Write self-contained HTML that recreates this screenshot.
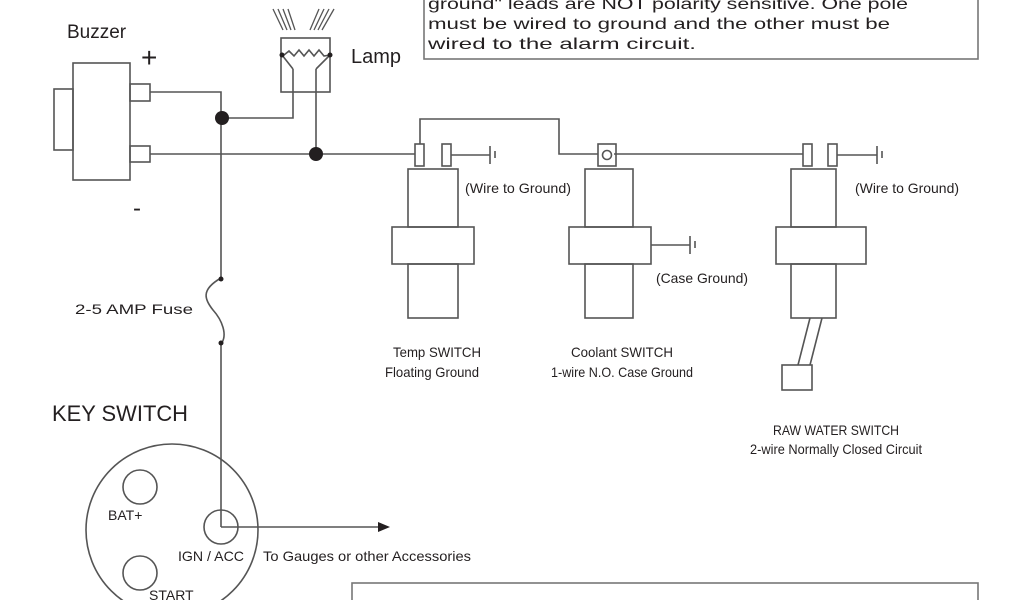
<!DOCTYPE html>
<html><head><meta charset="utf-8"><style>
html,body{margin:0;padding:0;background:#fff;}
svg{display:block;font-family:"Liberation Sans",sans-serif;}
text{fill:#231f20;}
</style></head><body>
<svg width="1024" height="600" viewBox="0 0 1024 600" xmlns="http://www.w3.org/2000/svg">
<g fill="none" stroke="#555" stroke-width="1.6">
<rect x="424" y="-5" width="554" height="64" stroke="#777"/>
<rect x="352" y="583" width="626" height="30" stroke="#777"/>
<rect x="73" y="63" width="57" height="117"/>
<rect x="54" y="89" width="19" height="61"/>
<rect x="130" y="84" width="20" height="17"/>
<rect x="130" y="146" width="20" height="16"/>
<polyline points="150,92 221,92 221,278"/>
<polyline points="222,118 293,118 293,69"/>
<polyline points="150,154 415,154"/>
<polyline points="316,69 316,154"/>
<polyline points="420,144 420,119 559,119 559,154 598,154"/>
<line x1="614" y1="154" x2="803" y2="154"/>
<rect x="281" y="38" width="49" height="54"/>
<polyline points="282,55 293,69"/>
<polyline points="330,55 316,69"/>
<polyline points="284,55 289,51 294,56 299,50 304,56 309,50 314,56 319,50 324,56 330,55"/>
<g stroke-width="1.3">
<line x1="273" y1="9" x2="283" y2="30"/><line x1="278" y1="9" x2="287" y2="30"/><line x1="283" y1="9" x2="291" y2="30"/><line x1="288" y1="9" x2="295" y2="30"/>
<line x1="319" y1="9" x2="310" y2="30"/><line x1="324" y1="9" x2="314" y2="30"/><line x1="329" y1="9" x2="318" y2="30"/><line x1="334" y1="9" x2="322" y2="30"/>
</g>
<rect x="415" y="144" width="9" height="22"/>
<rect x="442" y="144" width="9" height="22"/>
<line x1="451" y1="155" x2="490" y2="155"/>
<line x1="490" y1="146" x2="490" y2="164"/><line x1="495" y1="151" x2="495" y2="158"/>
<rect x="408" y="169" width="50" height="58"/>
<rect x="392" y="227" width="82" height="37"/>
<rect x="408" y="264" width="50" height="54"/>
<rect x="598" y="144" width="18" height="22"/>
<circle cx="607" cy="155" r="4.5"/>
<rect x="585" y="169" width="48" height="58"/>
<rect x="569" y="227" width="82" height="37"/>
<rect x="585" y="264" width="48" height="54"/>
<line x1="651" y1="245" x2="690" y2="245"/>
<line x1="690" y1="236" x2="690" y2="254"/><line x1="695" y1="241" x2="695" y2="248"/>
<rect x="803" y="144" width="9" height="22"/>
<rect x="828" y="144" width="9" height="22"/>
<line x1="837" y1="155" x2="877" y2="155"/>
<line x1="877" y1="146" x2="877" y2="164"/><line x1="882" y1="151" x2="882" y2="158"/>
<rect x="791" y="169" width="45" height="58"/>
<rect x="776" y="227" width="90" height="37"/>
<rect x="791" y="264" width="45" height="54"/>
<line x1="810" y1="318" x2="798" y2="365"/>
<line x1="822" y1="318" x2="810" y2="365"/>
<rect x="782" y="365" width="30" height="25"/>
<path d="M221,278 C200,290 205,300 213,310 C222,320 228,335 221,344"/>
<line x1="221" y1="344" x2="221" y2="527"/>
<ellipse cx="172" cy="530" rx="86" ry="86"/>
<circle cx="140" cy="487" r="17"/>
<circle cx="221" cy="527" r="17"/>
<circle cx="140" cy="573" r="17"/>
<line x1="221" y1="527" x2="380" y2="527"/>
</g>
<g fill="#231f20">
<circle cx="222" cy="118" r="7"/>
<circle cx="316" cy="154" r="7"/>
<circle cx="282" cy="55" r="2.5"/><circle cx="330" cy="55" r="2.5"/>
<circle cx="221" cy="279" r="2.5"/><circle cx="221" cy="343" r="2.5"/>
<polygon points="390,527 378,522 378,532"/>
</g>
<g font-size="14">
<text x="67" y="38" font-size="19">Buzzer</text>
<text x="141" y="67" font-size="28">+</text>
<text x="133" y="216" font-size="24">-</text>
<text x="351" y="63" font-size="20">Lamp</text>
<text x="428" y="9" font-size="16" textLength="480" lengthAdjust="spacingAndGlyphs">ground" leads are NOT polarity sensitive. One pole</text>
<text x="428" y="29" font-size="16" textLength="462" lengthAdjust="spacingAndGlyphs">must be wired to ground and the other must be</text>
<text x="428" y="49" font-size="16" textLength="268" lengthAdjust="spacingAndGlyphs">wired to the alarm circuit.</text>
<text x="465" y="193" textLength="106" lengthAdjust="spacingAndGlyphs">(Wire to Ground)</text>
<text x="855" y="193" textLength="104" lengthAdjust="spacingAndGlyphs">(Wire to Ground)</text>
<text x="656" y="283" textLength="92" lengthAdjust="spacingAndGlyphs">(Case Ground)</text>
<text x="75" y="314" textLength="118" lengthAdjust="spacingAndGlyphs">2-5 AMP Fuse</text>
<text x="437" y="357" text-anchor="middle" textLength="88" lengthAdjust="spacingAndGlyphs">Temp SWITCH</text>
<text x="432" y="377" text-anchor="middle" textLength="94" lengthAdjust="spacingAndGlyphs">Floating Ground</text>
<text x="622" y="357" text-anchor="middle" textLength="102" lengthAdjust="spacingAndGlyphs">Coolant SWITCH</text>
<text x="622" y="377" text-anchor="middle" textLength="142" lengthAdjust="spacingAndGlyphs">1-wire N.O. Case Ground</text>
<text x="836" y="435" text-anchor="middle" textLength="126" lengthAdjust="spacingAndGlyphs">RAW WATER SWITCH</text>
<text x="836" y="454" text-anchor="middle" textLength="172" lengthAdjust="spacingAndGlyphs">2-wire Normally Closed Circuit</text>
<text x="52" y="421" font-size="22" textLength="136" lengthAdjust="spacingAndGlyphs">KEY SWITCH</text>
<text x="108" y="520">BAT+</text>
<text x="178" y="561" textLength="66" lengthAdjust="spacingAndGlyphs">IGN / ACC</text>
<text x="263" y="561" textLength="208" lengthAdjust="spacingAndGlyphs">To Gauges or other Accessories</text>
<text x="149" y="600">START</text>
</g>
</svg>
</body></html>
